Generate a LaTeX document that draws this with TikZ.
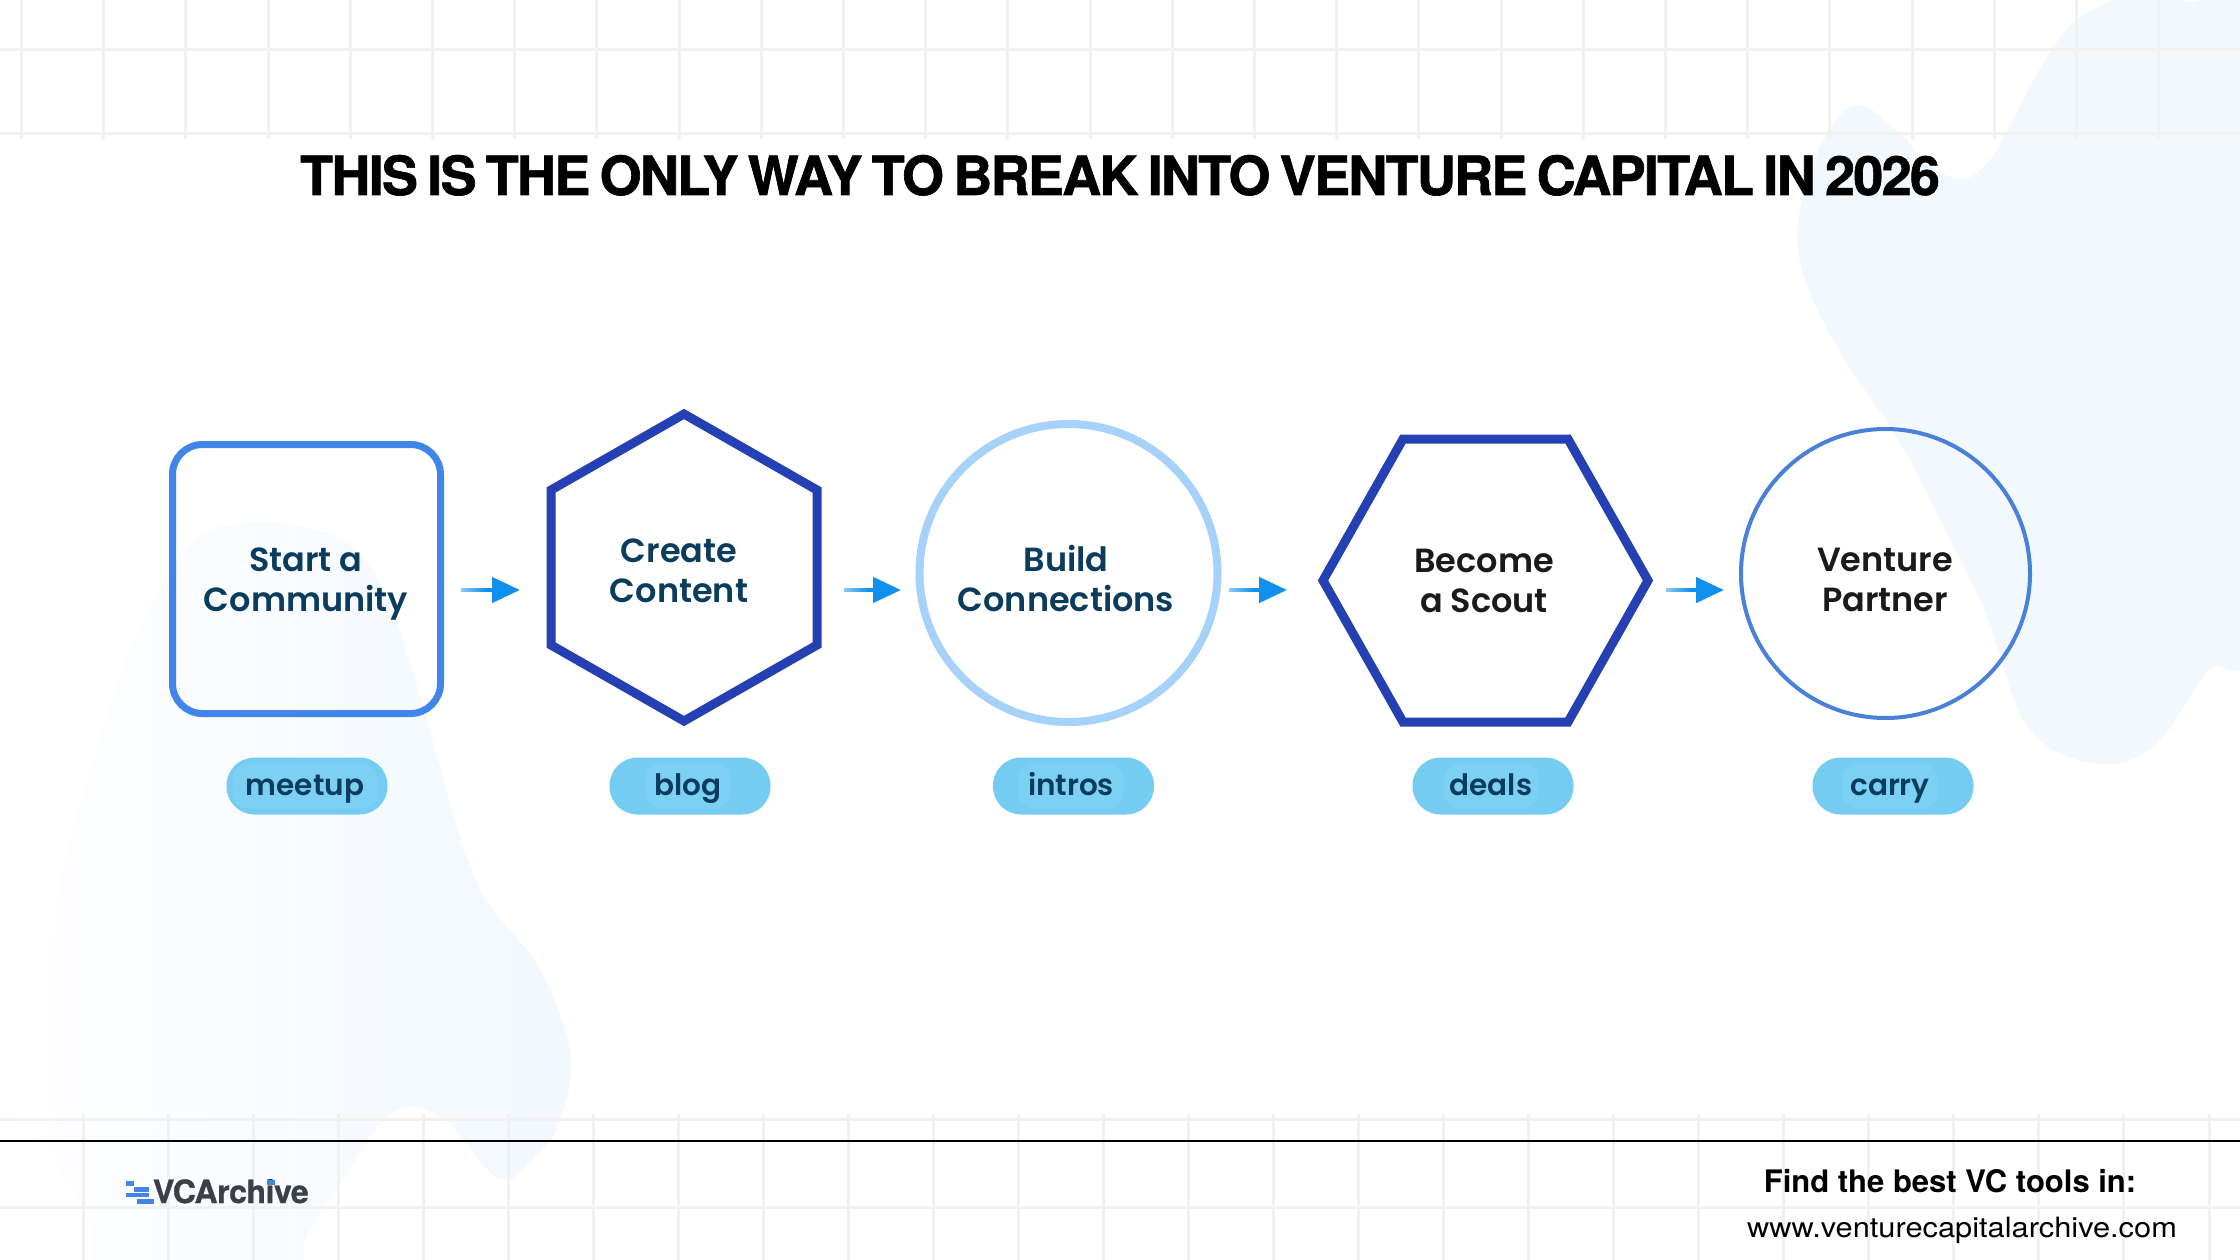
\documentclass[tikz,border=0pt]{standalone}
\usepackage{fontspec}
\usetikzlibrary{arrows.meta,fadings}
\setmainfont{Liberation Sans}
\newfontfamily\titlefont[WordSpace=0.7,LetterSpace=-3.2,BoldFeatures={FakeBold=1.2}]{TeX Gyre Heros}
\newfontfamily\logofont[FakeStretch=1.0,LetterSpace=-1.4,BoldFeatures={FakeBold=1}]{TeX Gyre Heros}
\newfontfamily\footfont{TeX Gyre Heros}
\newfontfamily\urlfont[FakeStretch=1.1]{TeX Gyre Heros}
\newfontfamily\labelfont[BoldFont={Poppins SemiBold}]{Poppins}
\definecolor{gridc}{HTML}{F1F1F2}
\definecolor{blobc}{HTML}{F1F8FE}
\definecolor{blobl}{HTML}{FEFEFF}
\definecolor{navy}{HTML}{0B3C5D}
\definecolor{inkc}{HTML}{1A1A1A}
\definecolor{rectc}{HTML}{4285E8}
\definecolor{hexc}{HTML}{2440B3}
\definecolor{ringc}{HTML}{A6D1F9}
\definecolor{thinc}{HTML}{4A80DA}
\definecolor{pillc}{HTML}{75CCF3}
\definecolor{pillin}{HTML}{7BD0F4}
\definecolor{flowc}{HTML}{1090EE}
\definecolor{logoc}{HTML}{3A3F48}
\tikzset{
  gridline/.style={draw=gridc,line width=3pt},
  steptext/.style={font=\labelfont\bfseries\fontsize{33.5}{40}\selectfont,align=center,inner sep=0pt,text=navy},
  darktext/.style={steptext,text=inkc},
  pill/.style={fill=pillc,rounded corners=28pt,minimum width=161pt,minimum height=57pt,inner sep=0pt},
  pillcore/.style={fill=pillin,rounded corners=16pt,minimum height=45pt,inner sep=0pt},
  pilltext/.style={font=\labelfont\bfseries\fontsize{29.5}{30}\selectfont,text=navy,inner sep=0pt},
  hexline/.style={draw=hexc,line width=9pt,miter limit=10,line join=miter},
  hidden/.style={inner sep=0pt,outer sep=0pt,rectangle},
  flow/.style={draw=flowc,line width=4.5pt,-{Triangle[length=28pt,width=25pt]}},
  logobar/.style={fill=rectc,inner sep=0pt}
}
\begin{document}
\begin{tikzpicture}[x=1pt,y=-1pt]
\useasboundingbox (0,0) rectangle (2240,1260);
\fill[white] (0,0) rectangle (2240,1260);
% blobs
\fill[blobc] plot[smooth cycle,tension=.6] coordinates {
 (2134,-6)(2077,20)(2041,67)(2006,133)(1984,167)(1959,179)(1927,163)(1899,133)(1859,105)(1827,133)(1802,200)(1798,250)(1813,300)(1845,360)(1900,443)(1950,540)(1986,614)(2029,729)(2100,764)(2157,743)(2207,671)(2260,610)(2260,40)(2186,2)};
\shade[left color=blobl,right color=blobc] plot[smooth cycle,tension=.6] coordinates {
 (247,523)(191,543)(140,627)(100,740)(60,880)(40,1000)(15,1097)(51,1157)(87,1213)(112,1280)(285,1280)(306,1237)(337,1187)(357,1157)(383,1120)(411,1107)(449,1123)(485,1167)(508,1180)(531,1160)(556,1130)(571,1057)(540,970)(486,900)(461,840)(426,717)(395,617)(359,553)(308,528)};
% grids
\foreach \i in {0,...,26}{\draw[gridline] ({21.4+82.2*\i},0) -- ({21.4+82.2*\i},139);}
\draw[gridline] (0,50) -- (2240,50);
\draw[gridline] (0,134) -- (2240,134);
\foreach \i in {0,...,25}{\draw[gridline] ({83+85.04*\i},1114) -- ({83+85.04*\i},1260);}
\draw[gridline] (0,1119) -- (2240,1119);
\draw[gridline] (0,1207) -- (2240,1207);
\draw[black,line width=2pt] (0,1140.7) -- (2240,1140.7);
% title
\node[hidden,anchor=base,text=black] (title) at (1120,195) {\titlefont\bfseries\fontsize{54}{54}\selectfont THIS IS THE ONLY WAY TO BREAK INTO VENTURE CAPITAL IN 2026};
% shapes
\node[draw=rectc,line width=7pt,rounded corners=30pt,minimum width=268pt,minimum height=269pt,outer sep=0pt] (n1) at (306.5,579) {};
\node[hidden,minimum width=266pt,minimum height=307pt] (n2) at (684,567.5) {};
\draw[hexline] (n2.north) -- (n2.east |- 0,490) -- (n2.east |- 0,645) -- (n2.south) -- (n2.west |- 0,645) -- (n2.west |- 0,490) -- cycle;
\node[draw=ringc,line width=8pt,circle,minimum size=298pt,inner sep=0pt,outer sep=0pt] (n3) at (1068.5,573) {};
\node[hidden,minimum width=325pt,minimum height=283pt] (n4) at (1485.5,580.5) {};
\draw[hexline] (1403,439) -- (1568,439) -- (n4.east) -- (1568,722) -- (1403,722) -- (n4.west) -- cycle;
\node[draw=thinc,line width=4pt,circle,minimum size=289pt,inner sep=0pt,outer sep=0pt] (n5) at (1885.5,573.5) {};
% step text
\node[steptext] (t1) at (306,584) {Start a\\Community};
\node[steptext] (t2) at (679,571) {Create\\Content};
\node[steptext] (t3) at (1066,579) {Build\\Connections};
\node[darktext] (t4) at (1484,581) {Become\\a Scout};
\node[darktext] (t5) at (1885,580) {Venture\\Partner};
% connectors
\draw[flow] ([xshift=20.5pt,yshift=-11pt]n1.east) -- ([xshift=-31pt,yshift=-22.5pt]n2.west);
\draw[flow] ([xshift=27pt,yshift=-22.5pt]n2.east) -- ([xshift=-18.5pt,yshift=-17pt]n3.west);
\draw[flow] ([xshift=11.5pt,yshift=-17pt]n3.east) -- ([xshift=-36pt,yshift=-9.5pt]n4.west);
\draw[flow] ([xshift=18pt,yshift=-9.5pt]n4.east) -- ([xshift=-17pt,yshift=-16.5pt]n5.west);
\foreach \ax in {461,844,1229,1666}{
 \fill[white,fill opacity=.55,path fading=east] (\ax-1,586) rectangle (\ax+24,594);}
% pills
\foreach \nm/\px/\tx/\lab/\cw in {a/307/305/meetup/145,b/690/688/blog/85,c/1073.5/1071/intros/105,d/1493/1491/deals/95,e/1893/1890/carry/95}{
 \node[pill] (p\nm) at (\px,786) {};
 \node[pillcore,minimum width=\cw pt] (c\nm) at (\tx,786) {};
 \node[pilltext,anchor=base] (l\nm) at (\tx,795) {\lab};
}
% logo
\fill[logobar] (126,1181) rectangle (134,1186);
\fill[logobar] (134,1187) rectangle (149,1192);
\fill[logobar] (126,1193) rectangle (149,1197);
\fill[logobar] (137,1199) rectangle (154,1204);
\node[hidden,anchor=base west,text=logoc] (logo) at (153,1203) {\logofont\bfseries\fontsize{32}{32}\selectfont VCArchive};
\fill[logobar] (267,1180) rectangle (274.5,1185);
% footer
\node[hidden,anchor=base,text=black] (f1) at (1950,1192) {\footfont\bfseries\fontsize{31}{31}\selectfont Find the best VC tools in:};
\node[hidden,anchor=base,text=black] (f2) at (1962,1237) {\urlfont\fontsize{28}{28}\selectfont www.venturecapitalarchive.com};
\end{tikzpicture}
\end{document}
